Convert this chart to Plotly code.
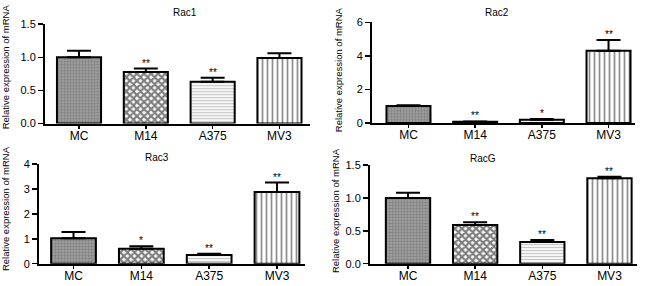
import plotly.graph_objects as go

categories = ["MC", "M14", "A375", "MV3"]
panel_titles = ["Rac1", "Rac2", "Rac3", "RacG"]

rac1_values = [1.00, 0.78, 0.63, 0.99]
rac1_errors = [0.10, 0.05, 0.06, 0.07]
rac1_stars = ["", "**", "**", ""]

rac2_values = [1.00, 0.07, 0.18, 4.30]
rac2_errors = [0.05, 0.02, 0.05, 0.65]
rac2_stars = ["", "**", "*", "**"]

rac3_values = [1.02, 0.60, 0.35, 2.88]
rac3_errors = [0.25, 0.10, 0.05, 0.38]
rac3_stars = ["", "*", "**", "**"]

racg_values = [1.00, 0.59, 0.33, 1.30]
racg_errors = [0.08, 0.04, 0.03, 0.02]
racg_stars = ["", "**", "**", "**"]

y_ranges = [[0, 1.5], [0, 6], [0, 4], [0, 1.5]]
y_tickvals = [[0.0, 0.5, 1.0, 1.5], [0, 2, 4, 6], [0, 1, 2, 3, 4], [0.0, 0.5, 1.0, 1.5]]
y_ticktext = [["0.0", "0.5", "1.0", "1.5"], ["0", "2", "4", "6"], ["0", "1", "2", "3", "4"],
              ["0.0", "0.5", "1.0", "1.5"]]
y_label = "Relative expression of mRNA"

panels = [
    (rac1_values, rac1_errors, rac1_stars),
    (rac2_values, rac2_errors, rac2_stars),
    (rac3_values, rac3_errors, rac3_stars),
    (racg_values, racg_errors, racg_stars),
]

# layout geometry (pixels in 650x286 canvas)
W, H = 650, 286
geom = [
    dict(x0=45, x1=310, ybot=122.7, ytop=19, xr=[-0.509, 3.457], title=(185, 7), ylab=(5, 64)),
    dict(x0=372, x1=635, ybot=122, ytop=17, xr=[-0.547, 3.397], title=(497, 7), ylab=(338, 67)),
    dict(x0=39, x1=305, ybot=269, ytop=165, xr=[-0.509, 3.413], title=(157, 158), ylab=(5, 212)),
    dict(x0=370, x1=637, ybot=269, ytop=166, xr=[-0.566, 3.41], title=(483, 159), ylab=(335, 213)),
]

bar_styles = [
    dict(color="#9c9c9c", pattern=dict(shape="+", fgcolor="#6a6a6a", size=3, solidity=0.4)),
    dict(color="white", pattern=dict(shape="x", fgcolor="black", size=5, solidity=0.7)),
    dict(color="white", pattern=dict(shape="-", fgcolor="#8c8c8c", size=3, solidity=0.45)),
    dict(color="white", pattern=dict(shape="|", fgcolor="#202020", size=5, solidity=0.35)),
]

fig = go.Figure()
font = "Liberation Sans, Arial, sans-serif"
annotations = []

for i, ((vals, errs, stars), g) in enumerate(zip(panels, geom)):
    ax = "" if i == 0 else str(i + 1)
    for j, cat in enumerate(categories):
        st = bar_styles[j]
        fig.add_trace(go.Bar(
            x=[cat], y=[vals[j]], width=0.66,
            xaxis="x" + ax, yaxis="y" + ax,
            marker=dict(color=st["color"], pattern=st["pattern"],
                        line=dict(color="black", width=2)),
            error_y=dict(type="data", array=[errs[j]], arrayminus=[0], symmetric=False,
                         color="black", thickness=2, width=12),
            showlegend=False, hoverinfo="skip",
        ))
        if stars[j]:
            annotations.append(dict(
                x=cat, y=vals[j] + errs[j], xref="x" + ax, yref="y" + ax,
                text=stars[j], showarrow=False, yanchor="bottom", yshift=-2,
                font=dict(family=font, size=10, color="black"),
            ))
    fig.layout["xaxis" + ax] = dict(
        domain=[g["x0"] / W, g["x1"] / W], anchor="y" + ax, range=g["xr"],
        type="category", categoryorder="array", categoryarray=categories,
        showline=True, linecolor="black", linewidth=2, ticks="outside", ticklen=3,
        tickwidth=1.5, tickcolor="black", showgrid=False, zeroline=False,
        ticklabelstandoff=-3,
        tickfont=dict(family=font, size=12, color="black"), fixedrange=True,
    )
    fig.layout["yaxis" + ax] = dict(
        domain=[1 - g["ybot"] / H, 1 - g["ytop"] / H], anchor="x" + ax, range=y_ranges[i],
        tickvals=y_tickvals[i], ticktext=y_ticktext[i],
        showline=True, linecolor="black", linewidth=2, ticks="outside", ticklen=5,
        tickwidth=1.5, tickcolor="black", showgrid=False, zeroline=False,
        tickfont=dict(family=font, size=11, color="black"), fixedrange=True,
    )
    annotations.append(dict(
        x=g["title"][0] / W, y=1 - g["title"][1] / H, xref="paper", yref="paper",
        text=panel_titles[i], showarrow=False, xanchor="center", yanchor="middle",
        font=dict(family=font, size=10, color="black"),
    ))
    annotations.append(dict(
        x=g["ylab"][0] / W, y=1 - g["ylab"][1] / H, xref="paper", yref="paper",
        text=y_label, showarrow=False, xanchor="center", yanchor="middle", textangle=-90,
        font=dict(family=font, size=9.5, color="black"),
    ))

fig.update_layout(
    width=W, height=H, margin=dict(l=0, r=0, t=0, b=0),
    paper_bgcolor="white", plot_bgcolor="white", barmode="overlay",
    annotations=annotations,
)

fig.write_html("out.html", config={"displayModeBar": False, "staticPlot": True},
               post_script="document.body.style.margin='0px';")
